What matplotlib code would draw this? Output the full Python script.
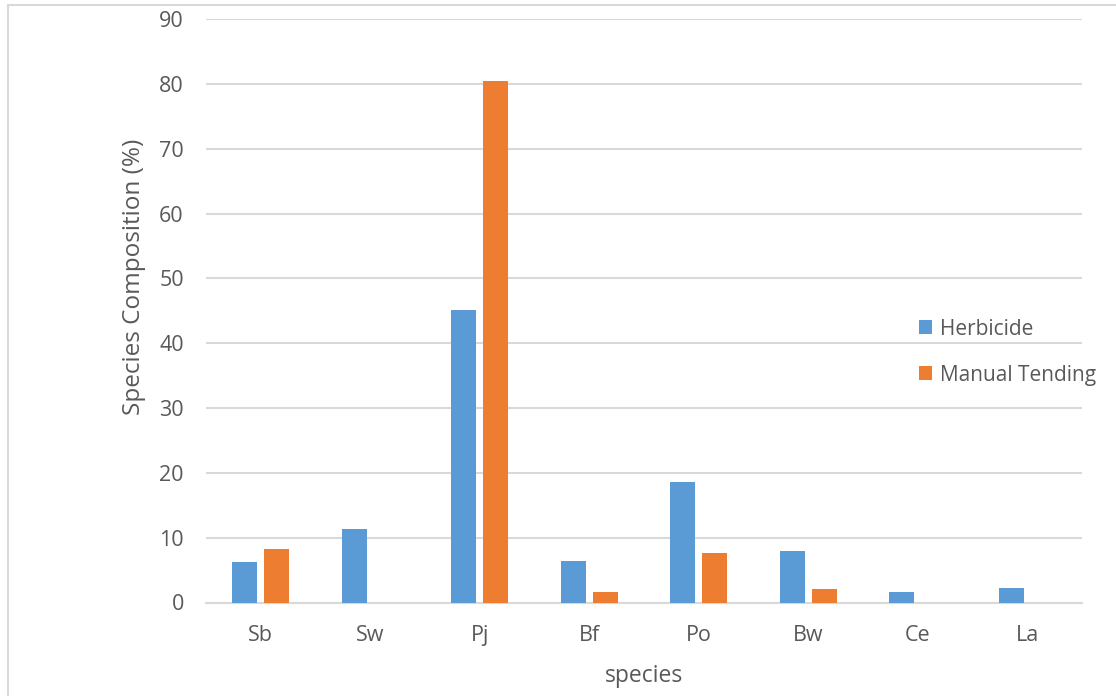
import numpy as np
import matplotlib.pyplot as plt
from matplotlib.patches import Rectangle

species = ['Sb', 'Sw', 'Pj', 'Bf', 'Po', 'Bw', 'Ce', 'La']
herbicide = [6.2, 11.3, 45.1, 6.4, 18.6, 8.0, 1.6, 2.3]
manual = [8.2, 0, 80.4, 1.6, 7.6, 2.1, 0, 0]

plt.rcParams['font.family'] = ['Open Sans', 'DejaVu Sans']
txt = '#595959'
grid = '#d9d9d9'

fig = plt.figure(figsize=(11.16, 6.96), dpi=100)
ax = fig.add_axes([206/1116, 1 - 602.5/696, 876/1116, (602.5 - 19)/696])

x = np.arange(len(species))
w = 0.23
ax.bar(x - 0.145, herbicide, w, color='#5b9bd5', label='Herbicide', zorder=3)
ax.bar(x + 0.145, manual, w, color='#ed7d31', label='Manual Tending', zorder=3)

ax.set_xlim(-0.5, len(species) - 0.5)
ax.set_ylim(0, 90)
ax.set_yticks(range(0, 91, 10))
ax.set_xticks(x)
ax.set_xticklabels(species)
ax.yaxis.grid(True, color=grid, linewidth=1.5, zorder=0)
for s in ['top', 'right', 'left']:
    ax.spines[s].set_visible(False)
ax.spines['bottom'].set_color(grid)
ax.spines['bottom'].set_linewidth(1.5)
ax.tick_params(length=0, labelsize=15.5, colors=txt)
ax.tick_params(axis='x', pad=16)
ax.tick_params(axis='y', pad=16)
ax.set_xlabel('species', fontsize=16.5, color=txt, labelpad=13)
ax.set_ylabel('Species Composition (%)', fontsize=17.5, color=txt, labelpad=1)
ax.yaxis.set_label_coords(-0.068, 0.558)

ax.legend(loc='center left', bbox_to_anchor=(900/1116, 1 - 352/696),
          bbox_transform=fig.transFigure, frameon=False, fontsize=15,
          labelcolor=txt, handlelength=0.65, handleheight=0.65,
          handletextpad=0.35, labelspacing=1.2)

fig.patches.append(Rectangle((8/1116, -0.1), 1.2, 1 - 5/696 + 0.1,
                             transform=fig.transFigure, fill=False,
                             edgecolor=grid, linewidth=1.5))

fig.savefig('out.png', dpi=100)
